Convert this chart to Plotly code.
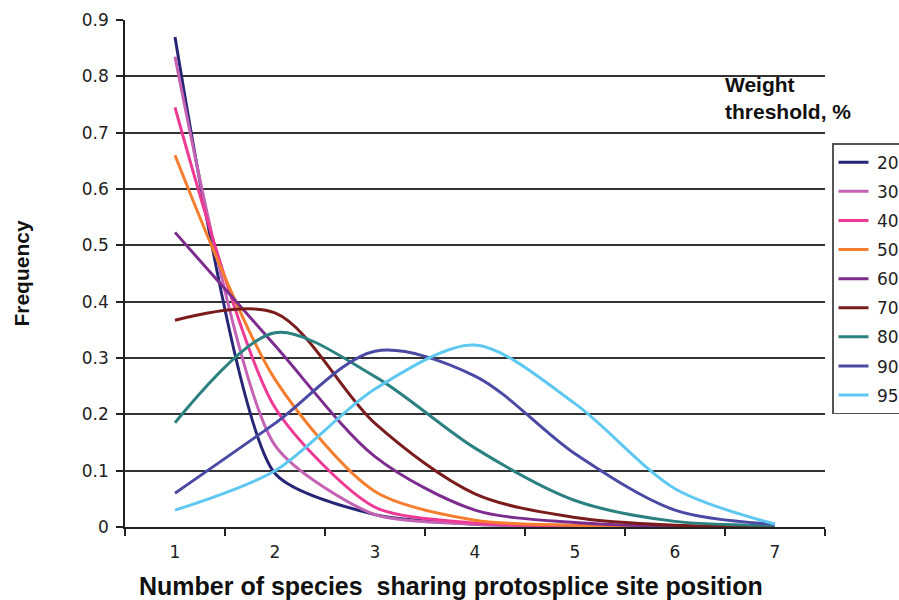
import plotly.graph_objects as go

categories = ["1", "2", "3", "4", "5", "6", "7"]
series_names = ["20", "30", "40", "50", "60", "70", "80", "90", "95"]
s20 = [0.870, 0.095, 0.022, 0.005, 0.002, 0.001, 0.000]
s30 = [0.835, 0.145, 0.022, 0.005, 0.002, 0.001, 0.000]
s40 = [0.745, 0.212, 0.035, 0.007, 0.002, 0.001, 0.000]
s50 = [0.660, 0.262, 0.063, 0.012, 0.003, 0.001, 0.000]
s60 = [0.523, 0.322, 0.125, 0.030, 0.008, 0.001, 0.000]
s70 = [0.367, 0.380, 0.184, 0.059, 0.017, 0.003, 0.000]
s80 = [0.185, 0.345, 0.267, 0.140, 0.047, 0.010, 0.003]
s90 = [0.060, 0.184, 0.312, 0.268, 0.130, 0.030, 0.005]
s95 = [0.030, 0.100, 0.245, 0.323, 0.219, 0.068, 0.005]
series_values = [s20, s30, s40, s50, s60, s70, s80, s90, s95]
colors = ["#262674", "#c463b4", "#ee3a94", "#f47e2e", "#7c2d8e",
          "#7a1c1c", "#2b8180", "#4a4aa4", "#5ec8f0"]
smooth = [0.62, 0.66, 0.7, 0.78, 0.85, 0.9, 0.85, 0.9, 0.85]
y_ticks = [0, 0.1, 0.2, 0.3, 0.4, 0.5, 0.6, 0.7, 0.8, 0.9]
y_ticktext = ["0", "0.1", "0.2", "0.3", "0.4", "0.5", "0.6", "0.7", "0.8", "0.9"]

fig = go.Figure()
for name, vals, col, sm in zip(series_names, series_values, colors, smooth):
    fig.add_trace(go.Scatter(
        x=categories, y=vals, name="\u2009" + name, mode="lines",
        line=dict(color=col, width=3, shape="spline", smoothing=sm),
        legendgroup=name,
    ))

fig.update_layout(
    width=899, height=600,
    margin=dict(l=125, r=74, t=20, b=73, autoexpand=False),
    plot_bgcolor="white", paper_bgcolor="white",
    font=dict(family="DejaVu Sans", size=17, color="#222"),
    showlegend=True,
    legend=dict(
        x=1.01, xanchor="left", y=0.757, yanchor="top",
        bgcolor="white", bordercolor="#555", borderwidth=1.5,
        font=dict(family="DejaVu Sans", size=17, color="#222"),
        tracegroupgap=4, itemwidth=30,
    ),
    xaxis=dict(
        type="category", range=[-0.5, 6.5], tickson="boundaries",
        ticks="outside", ticklen=7, tickcolor="#222", tickwidth=1.5,
        showline=True, linecolor="#222", linewidth=1.5,
        showgrid=False, zeroline=False, ticklabelstandoff=9,
        tickfont=dict(family="DejaVu Sans", size=17, color="#222"),
    ),
    yaxis=dict(
        range=[0, 0.9], tickvals=y_ticks, ticktext=y_ticktext,
        ticks="outside", ticklen=7, tickcolor="#222", tickwidth=1.5,
        showline=True, linecolor="#222", linewidth=1.5,
        showgrid=True, gridcolor="#333", gridwidth=1.5, zeroline=False,
        ticklabelstandoff=4,
        tickfont=dict(family="DejaVu Sans", size=17, color="#222"),
        title=dict(text="<b>Frequency</b>",
                   font=dict(family="Liberation Sans", size=21, color="#111"),
                   standoff=46),
    ),
)
fig.add_annotation(
    text="<b>Number of species \u00a0sharing protosplice site position</b>",
    xref="paper", yref="paper",
    x=(451 - 125) / 700, y=(527 - 586) / 507, xanchor="center", yanchor="middle",
    showarrow=False,
    font=dict(family="Liberation Sans", size=25, color="#111"),
)
fig.add_annotation(
    text="<b>Weight<br>threshold, %</b>", xref="paper", yref="paper",
    x=(723 - 125) / 700, y=(527 - 71) / 507, xanchor="left", yanchor="top",
    showarrow=False, align="left",
    font=dict(family="Liberation Sans", size=21, color="#111"),
)
fig.write_html("out.html")
